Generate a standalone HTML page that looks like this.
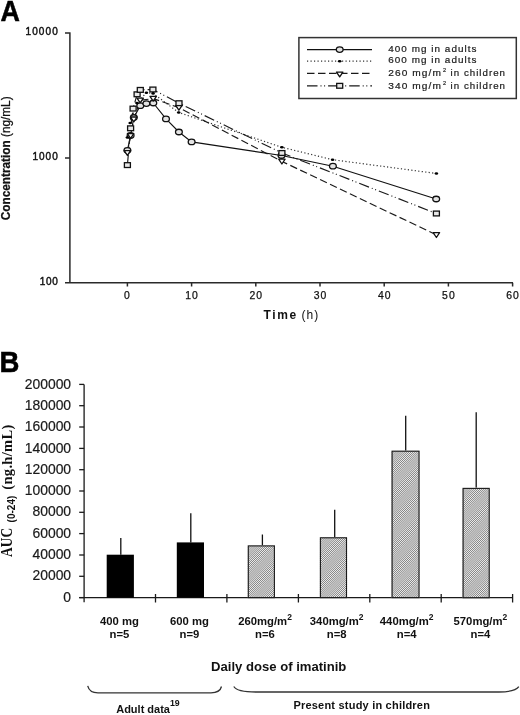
<!DOCTYPE html>
<html><head><meta charset="utf-8"><title>Figure</title>
<style>
html,body{margin:0;padding:0;background:#fff;}
svg{display:block;will-change:transform;}
text{font-family:"Liberation Sans",sans-serif;fill:#111;}
.ax path{stroke:#2a2a2a;stroke-width:1.5;fill:none;}
.axb path{stroke:#1a1a1a;stroke-width:1.3;fill:none;}
.tA text{font-size:10px;fill:#111;stroke:#111;stroke-width:0.42;}
.tA text.tx{font-size:10.4px;letter-spacing:1px;stroke-width:0.25;}
.tL text{font-size:9.5px;fill:#1a1a1a;letter-spacing:1px;stroke:#1a1a1a;stroke-width:0.2;}
.tB text{font-size:13.9px;fill:#1a1a1a;stroke:#1a1a1a;stroke-width:0.2;}
.xb text{font-size:11.3px;font-weight:bold;}
.dd{font-size:13.1px;font-weight:bold;}
.ad{font-size:11px;font-weight:bold;}
.big{font-size:28.6px;font-weight:bold;fill:#000;stroke:#000;stroke-width:0.5;}
.yl{font-size:12.4px;stroke:#111;stroke-width:0.25;}
.xl{font-size:12px;}
.ylb{font-family:"Liberation Serif",serif;font-size:16.5px;font-weight:bold;}
.ylb2{font-family:"Liberation Serif",serif;font-size:14.5px;font-weight:bold;}
.ylsub{font-size:10px;font-weight:bold;}
.l1{stroke:#111;stroke-width:1.15;fill:none;}
.l2{stroke:#333;stroke-width:1.2;fill:none;stroke-dasharray:1.2 2.3;}
.l3{stroke:#1a1a1a;stroke-width:1.15;fill:none;stroke-dasharray:7.5 3.5;}
.l4{stroke:#1a1a1a;stroke-width:1.15;fill:none;stroke-dasharray:10.5 3 1 2.6 1 3;}
.mc{fill:#e4e4e4;stroke:#111;stroke-width:1.3;}
.md{fill:#000;}
.mt{fill:#fff;stroke:#111;stroke-width:1.3;stroke-linejoin:round;}
.ms{fill:#e8e8e8;stroke:#111;stroke-width:1.3;}
.lg{fill:none;stroke:#333;stroke-width:1.5;}
.eb{stroke:#111;stroke-width:1.3;fill:none;}
.br{stroke:#333;stroke-width:1.3;fill:none;}
</style></head>
<body>
<svg width="520" height="715" viewBox="0 0 520 715">
<defs>
</defs>
<rect width="520" height="715" fill="#fff"/>
<g class="ax">
<path d="M69.9 33V283M65 33H70.6M65 158H70.6M65 282.8H513"/>
<path d="M127.4 282.8V286.5"/>
<path d="M191.6 282.8V286.5"/>
<path d="M255.8 282.8V286.5"/>
<path d="M320.0 282.8V286.5"/>
<path d="M384.2 282.8V286.5"/>
<path d="M448.4 282.8V286.5"/>
<path d="M512.6 282.8V286.5"/>
</g>
<g class="tA">
<text x="127.4" y="298.8" text-anchor="middle" class="tx">0</text>
<text x="192.1" y="298.8" text-anchor="middle" class="tx">10</text>
<text x="256.3" y="298.8" text-anchor="middle" class="tx">20</text>
<text x="320.5" y="298.8" text-anchor="middle" class="tx">30</text>
<text x="384.7" y="298.8" text-anchor="middle" class="tx">40</text>
<text x="448.9" y="298.8" text-anchor="middle" class="tx">50</text>
<text x="513.1" y="298.8" text-anchor="middle" class="tx">60</text>
<text x="57.7" y="35.1" text-anchor="end" textLength="32.1" lengthAdjust="spacing">10000</text>
<text x="57.7" y="160.1" text-anchor="end" textLength="25.2" lengthAdjust="spacing">1000</text>
<text x="57.8" y="285.1" text-anchor="end" textLength="18.1" lengthAdjust="spacing">100</text>
</g>
<polyline class="l1" points="127.4,150.3 130.6,135.5 133.8,117.5 140.3,105.7 146.4,103.6 153.3,103.0 166.0,118.9 178.9,132.0 191.6,141.9 281.5,155.5 332.9,166.2 436.2,199.0"/>
<polyline class="l2" points="127.4,137.5 130.2,123.0 136.9,103.1 146.4,92.7 153.1,93.4 178.7,112.5 281.9,147.3 332.6,159.7 436.4,173.5"/>
<polyline class="l3" points="127.4,152.8 130.6,135.8 133.8,119.2 140.2,100.3 153.2,98.6 178.9,107.6 281.9,161.4 436.4,234.9"/>
<polyline class="l4" points="127.4,165.1 130.6,128.3 133.1,108.6 137.1,94.3 140.3,89.9 152.9,89.5 179.0,103.2 281.9,153.0 436.4,213.5"/>
<ellipse cx="127.4" cy="150.3" rx="3.4" ry="2.75" class="mc"/>
<ellipse cx="130.6" cy="135.5" rx="3.4" ry="2.75" class="mc"/>
<ellipse cx="133.8" cy="117.5" rx="3.4" ry="2.75" class="mc"/>
<ellipse cx="140.3" cy="105.7" rx="3.4" ry="2.75" class="mc"/>
<ellipse cx="146.4" cy="103.6" rx="3.4" ry="2.75" class="mc"/>
<ellipse cx="153.3" cy="103.0" rx="3.4" ry="2.75" class="mc"/>
<ellipse cx="166.0" cy="118.9" rx="3.4" ry="2.75" class="mc"/>
<ellipse cx="178.9" cy="132.0" rx="3.4" ry="2.75" class="mc"/>
<ellipse cx="191.6" cy="141.9" rx="3.4" ry="2.75" class="mc"/>
<ellipse cx="281.5" cy="155.5" rx="3.4" ry="2.75" class="mc"/>
<ellipse cx="332.9" cy="166.2" rx="3.4" ry="2.75" class="mc"/>
<ellipse cx="436.2" cy="199.0" rx="3.4" ry="2.75" class="mc"/>
<path d="M124.2 150.6L130.6 150.6L127.4 155.4Z" class="mt"/>
<path d="M127.4 133.6L133.8 133.6L130.6 138.4Z" class="mt"/>
<path d="M130.6 117.0L137.0 117.0L133.8 121.8Z" class="mt"/>
<path d="M137.0 98.1L143.4 98.1L140.2 102.9Z" class="mt"/>
<path d="M150.0 96.4L156.4 96.4L153.2 101.2Z" class="mt"/>
<path d="M175.7 105.4L182.1 105.4L178.9 110.2Z" class="mt"/>
<path d="M278.7 159.2L285.1 159.2L281.9 164.0Z" class="mt"/>
<path d="M433.2 232.7L439.6 232.7L436.4 237.5Z" class="mt"/>
<rect x="124.4" y="162.7" width="6" height="4.8" class="ms"/>
<rect x="127.6" y="125.9" width="6" height="4.8" class="ms"/>
<rect x="130.1" y="106.2" width="6" height="4.8" class="ms"/>
<rect x="134.1" y="91.9" width="6" height="4.8" class="ms"/>
<rect x="137.3" y="87.5" width="6" height="4.8" class="ms"/>
<rect x="149.9" y="87.1" width="6" height="4.8" class="ms"/>
<rect x="176.0" y="100.8" width="6" height="4.8" class="ms"/>
<rect x="278.9" y="150.6" width="6" height="4.8" class="ms"/>
<rect x="433.4" y="211.1" width="6" height="4.8" class="ms"/>
<ellipse cx="127.4" cy="137.5" rx="1.8" ry="1.3" class="md"/>
<ellipse cx="130.2" cy="123.0" rx="1.8" ry="1.3" class="md"/>
<ellipse cx="136.9" cy="103.1" rx="1.8" ry="1.3" class="md"/>
<ellipse cx="146.4" cy="92.7" rx="1.8" ry="1.3" class="md"/>
<ellipse cx="153.1" cy="93.4" rx="1.8" ry="1.3" class="md"/>
<ellipse cx="178.7" cy="112.5" rx="1.8" ry="1.3" class="md"/>
<ellipse cx="281.9" cy="147.3" rx="1.8" ry="1.3" class="md"/>
<ellipse cx="332.6" cy="159.7" rx="1.8" ry="1.3" class="md"/>
<ellipse cx="436.4" cy="173.5" rx="1.8" ry="1.3" class="md"/>
<rect x="298.9" y="37.6" width="217.4" height="60.9" class="lg"/>
<path class="l1" d="M307 49.6H372"/>
<path class="l2" d="M307 61.2H372"/>
<path class="l3" d="M307 73.3H372"/>
<path class="l4" d="M307 85.8H372"/>
<ellipse cx="339.7" cy="49.6" rx="3.4" ry="2.75" class="mc"/>
<ellipse cx="339.7" cy="61.2" rx="1.8" ry="1.3" class="md"/>
<path d="M336.5 72.1L342.9 72.1L339.7 76.9Z" class="mt"/>
<rect x="336.7" y="83.4" width="6" height="4.8" class="ms"/>
<g class="tL">
<text x="388.3" y="51.7" textLength="89.2" lengthAdjust="spacingAndGlyphs">400 mg in adults</text>
<text x="388.3" y="63.3" textLength="89.2" lengthAdjust="spacingAndGlyphs">600 mg in adults</text>
<text x="388.3" y="75.9" textLength="53.6" lengthAdjust="spacingAndGlyphs">260 mg/m</text>
<text x="442.9" y="71.7" style="font-size:5.6px;letter-spacing:0">2</text>
<text x="450.6" y="75.9" textLength="55.4" lengthAdjust="spacingAndGlyphs">in children</text>
<text x="388.3" y="88.8" textLength="53.6" lengthAdjust="spacingAndGlyphs">340 mg/m</text>
<text x="442.9" y="84.6" style="font-size:5.6px;letter-spacing:0">2</text>
<text x="450.6" y="88.8" textLength="55.4" lengthAdjust="spacingAndGlyphs">in children</text>
</g>
<text x="0.6" y="21" class="big" textLength="19.4" lengthAdjust="spacingAndGlyphs">A</text>
<text transform="translate(9.9,220.2) rotate(-90)" class="yl" textLength="123.8" lengthAdjust="spacingAndGlyphs"><tspan font-weight="bold">Concentration</tspan> (ng/mL)</text>
<text x="263.5" y="319.2" class="xl"><tspan font-weight="bold" textLength="32.7" lengthAdjust="spacing">Time</tspan></text>
<text x="301.5" y="319.2" class="xl" textLength="16.8" lengthAdjust="spacing">(h)</text>
<text x="-0.4" y="372" class="big" textLength="19.9" lengthAdjust="spacingAndGlyphs">B</text>
<g class="axb">
<path d="M84.1 384.4V602.3M79.2 597.6H512.6"/>
<path d="M79.2 597.6H84.1"/>
<path d="M79.2 576.3H84.1"/>
<path d="M79.2 555.0H84.1"/>
<path d="M79.2 533.6H84.1"/>
<path d="M79.2 512.3H84.1"/>
<path d="M79.2 491.0H84.1"/>
<path d="M79.2 469.7H84.1"/>
<path d="M79.2 448.4H84.1"/>
<path d="M79.2 427.0H84.1"/>
<path d="M79.2 405.7H84.1"/>
<path d="M79.2 384.4H84.1"/>
<path d="M155.5 594V602.5"/>
<path d="M226.9 594V602.5"/>
<path d="M298.4 594V602.5"/>
<path d="M369.8 594V602.5"/>
<path d="M441.2 594V602.5"/>
<path d="M512.6 594V602.5"/>
</g>
<g class="tB">
<text x="71.1" y="601.7" text-anchor="end">0</text>
<text x="71.1" y="580.4" text-anchor="end">20000</text>
<text x="71.1" y="559.1" text-anchor="end">40000</text>
<text x="71.1" y="537.7" text-anchor="end">60000</text>
<text x="71.1" y="516.4" text-anchor="end">80000</text>
<text x="71.1" y="495.1" text-anchor="end">100000</text>
<text x="71.1" y="473.8" text-anchor="end">120000</text>
<text x="71.1" y="452.5" text-anchor="end">140000</text>
<text x="71.1" y="431.1" text-anchor="end">160000</text>
<text x="71.1" y="409.8" text-anchor="end">180000</text>
<text x="71.1" y="388.5" text-anchor="end">200000</text>
</g>
<path d="M120.8 554.7V538.0" class="eb"/>
<rect x="106.7" y="554.7" width="27.2" height="42.9" fill="#000"/>
<path d="M190.8 542.4V513.2" class="eb"/>
<rect x="176.8" y="542.4" width="27.2" height="55.2" fill="#000"/>
<path d="M262.4 545.4V534.5" class="eb"/>
<clipPath id="c2"><rect x="247.8" y="545.4" width="27.2" height="52.2"/></clipPath>
<rect x="247.8" y="545.4" width="27.2" height="52.2" fill="#ececec"/>
<path clip-path="url(#c2)" d="M195.60 597.6L247.80 545.4M197.68 597.6L249.88 545.4M199.76 597.6L251.96 545.4M201.84 597.6L254.04 545.4M203.92 597.6L256.12 545.4M206.00 597.6L258.20 545.4M208.08 597.6L260.28 545.4M210.16 597.6L262.36 545.4M212.24 597.6L264.44 545.4M214.32 597.6L266.52 545.4M216.40 597.6L268.60 545.4M218.48 597.6L270.68 545.4M220.56 597.6L272.76 545.4M222.64 597.6L274.84 545.4M224.72 597.6L276.92 545.4M226.80 597.6L279.00 545.4M228.88 597.6L281.08 545.4M230.96 597.6L283.16 545.4M233.04 597.6L285.24 545.4M235.12 597.6L287.32 545.4M237.20 597.6L289.40 545.4M239.28 597.6L291.48 545.4M241.36 597.6L293.56 545.4M243.44 597.6L295.64 545.4M245.52 597.6L297.72 545.4M247.60 597.6L299.80 545.4M249.68 597.6L301.88 545.4M251.76 597.6L303.96 545.4M253.84 597.6L306.04 545.4M255.92 597.6L308.12 545.4M258.00 597.6L310.20 545.4M260.08 597.6L312.28 545.4M262.16 597.6L314.36 545.4M264.24 597.6L316.44 545.4M266.32 597.6L318.52 545.4M268.40 597.6L320.60 545.4M270.48 597.6L322.68 545.4M272.56 597.6L324.76 545.4M274.64 597.6L326.84 545.4" stroke="#3a3a3a" stroke-width="0.60" fill="none"/>
<rect x="248.3" y="545.9" width="26.1" height="51.7" fill="none" stroke="#1a1a1a" stroke-width="1.1"/>
<path d="M334.7 537.2V509.8" class="eb"/>
<clipPath id="c3"><rect x="319.9" y="537.2" width="27.2" height="60.4"/></clipPath>
<rect x="319.9" y="537.2" width="27.2" height="60.4" fill="#ececec"/>
<path clip-path="url(#c3)" d="M259.50 597.6L319.90 537.2M261.58 597.6L321.98 537.2M263.66 597.6L324.06 537.2M265.74 597.6L326.14 537.2M267.82 597.6L328.22 537.2M269.90 597.6L330.30 537.2M271.98 597.6L332.38 537.2M274.06 597.6L334.46 537.2M276.14 597.6L336.54 537.2M278.22 597.6L338.62 537.2M280.30 597.6L340.70 537.2M282.38 597.6L342.78 537.2M284.46 597.6L344.86 537.2M286.54 597.6L346.94 537.2M288.62 597.6L349.02 537.2M290.70 597.6L351.10 537.2M292.78 597.6L353.18 537.2M294.86 597.6L355.26 537.2M296.94 597.6L357.34 537.2M299.02 597.6L359.42 537.2M301.10 597.6L361.50 537.2M303.18 597.6L363.58 537.2M305.26 597.6L365.66 537.2M307.34 597.6L367.74 537.2M309.42 597.6L369.82 537.2M311.50 597.6L371.90 537.2M313.58 597.6L373.98 537.2M315.66 597.6L376.06 537.2M317.74 597.6L378.14 537.2M319.82 597.6L380.22 537.2M321.90 597.6L382.30 537.2M323.98 597.6L384.38 537.2M326.06 597.6L386.46 537.2M328.14 597.6L388.54 537.2M330.22 597.6L390.62 537.2M332.30 597.6L392.70 537.2M334.38 597.6L394.78 537.2M336.46 597.6L396.86 537.2M338.54 597.6L398.94 537.2M340.62 597.6L401.02 537.2M342.70 597.6L403.10 537.2M344.78 597.6L405.18 537.2M346.86 597.6L407.26 537.2" stroke="#3a3a3a" stroke-width="0.60" fill="none"/>
<rect x="320.4" y="537.8" width="26.1" height="59.8" fill="none" stroke="#1a1a1a" stroke-width="1.1"/>
<path d="M405.7 450.7V415.8" class="eb"/>
<clipPath id="c4"><rect x="391.5" y="450.7" width="28.0" height="146.9"/></clipPath>
<rect x="391.5" y="450.7" width="28.0" height="146.9" fill="#ececec"/>
<path clip-path="url(#c4)" d="M244.60 597.6L391.50 450.7M246.68 597.6L393.58 450.7M248.76 597.6L395.66 450.7M250.84 597.6L397.74 450.7M252.92 597.6L399.82 450.7M255.00 597.6L401.90 450.7M257.08 597.6L403.98 450.7M259.16 597.6L406.06 450.7M261.24 597.6L408.14 450.7M263.32 597.6L410.22 450.7M265.40 597.6L412.30 450.7M267.48 597.6L414.38 450.7M269.56 597.6L416.46 450.7M271.64 597.6L418.54 450.7M273.72 597.6L420.62 450.7M275.80 597.6L422.70 450.7M277.88 597.6L424.78 450.7M279.96 597.6L426.86 450.7M282.04 597.6L428.94 450.7M284.12 597.6L431.02 450.7M286.20 597.6L433.10 450.7M288.28 597.6L435.18 450.7M290.36 597.6L437.26 450.7M292.44 597.6L439.34 450.7M294.52 597.6L441.42 450.7M296.60 597.6L443.50 450.7M298.68 597.6L445.58 450.7M300.76 597.6L447.66 450.7M302.84 597.6L449.74 450.7M304.92 597.6L451.82 450.7M307.00 597.6L453.90 450.7M309.08 597.6L455.98 450.7M311.16 597.6L458.06 450.7M313.24 597.6L460.14 450.7M315.32 597.6L462.22 450.7M317.40 597.6L464.30 450.7M319.48 597.6L466.38 450.7M321.56 597.6L468.46 450.7M323.64 597.6L470.54 450.7M325.72 597.6L472.62 450.7M327.80 597.6L474.70 450.7M329.88 597.6L476.78 450.7M331.96 597.6L478.86 450.7M334.04 597.6L480.94 450.7M336.12 597.6L483.02 450.7M338.20 597.6L485.10 450.7M340.28 597.6L487.18 450.7M342.36 597.6L489.26 450.7M344.44 597.6L491.34 450.7M346.52 597.6L493.42 450.7M348.60 597.6L495.50 450.7M350.68 597.6L497.58 450.7M352.76 597.6L499.66 450.7M354.84 597.6L501.74 450.7M356.92 597.6L503.82 450.7M359.00 597.6L505.90 450.7M361.08 597.6L507.98 450.7M363.16 597.6L510.06 450.7M365.24 597.6L512.14 450.7M367.32 597.6L514.22 450.7M369.40 597.6L516.30 450.7M371.48 597.6L518.38 450.7M373.56 597.6L520.46 450.7M375.64 597.6L522.54 450.7M377.72 597.6L524.62 450.7M379.80 597.6L526.70 450.7M381.88 597.6L528.78 450.7M383.96 597.6L530.86 450.7M386.04 597.6L532.94 450.7M388.12 597.6L535.02 450.7M390.20 597.6L537.10 450.7M392.28 597.6L539.18 450.7M394.36 597.6L541.26 450.7M396.44 597.6L543.34 450.7M398.52 597.6L545.42 450.7M400.60 597.6L547.50 450.7M402.68 597.6L549.58 450.7M404.76 597.6L551.66 450.7M406.84 597.6L553.74 450.7M408.92 597.6L555.82 450.7M411.00 597.6L557.90 450.7M413.08 597.6L559.98 450.7M415.16 597.6L562.06 450.7M417.24 597.6L564.14 450.7M419.32 597.6L566.22 450.7" stroke="#3a3a3a" stroke-width="0.60" fill="none"/>
<rect x="392.1" y="451.2" width="26.9" height="146.4" fill="none" stroke="#1a1a1a" stroke-width="1.1"/>
<path d="M476.2 487.8V412.2" class="eb"/>
<clipPath id="c5"><rect x="462.5" y="487.8" width="27.2" height="109.8"/></clipPath>
<rect x="462.5" y="487.8" width="27.2" height="109.8" fill="#ececec"/>
<path clip-path="url(#c5)" d="M352.70 597.6L462.50 487.8M354.78 597.6L464.58 487.8M356.86 597.6L466.66 487.8M358.94 597.6L468.74 487.8M361.02 597.6L470.82 487.8M363.10 597.6L472.90 487.8M365.18 597.6L474.98 487.8M367.26 597.6L477.06 487.8M369.34 597.6L479.14 487.8M371.42 597.6L481.22 487.8M373.50 597.6L483.30 487.8M375.58 597.6L485.38 487.8M377.66 597.6L487.46 487.8M379.74 597.6L489.54 487.8M381.82 597.6L491.62 487.8M383.90 597.6L493.70 487.8M385.98 597.6L495.78 487.8M388.06 597.6L497.86 487.8M390.14 597.6L499.94 487.8M392.22 597.6L502.02 487.8M394.30 597.6L504.10 487.8M396.38 597.6L506.18 487.8M398.46 597.6L508.26 487.8M400.54 597.6L510.34 487.8M402.62 597.6L512.42 487.8M404.70 597.6L514.50 487.8M406.78 597.6L516.58 487.8M408.86 597.6L518.66 487.8M410.94 597.6L520.74 487.8M413.02 597.6L522.82 487.8M415.10 597.6L524.90 487.8M417.18 597.6L526.98 487.8M419.26 597.6L529.06 487.8M421.34 597.6L531.14 487.8M423.42 597.6L533.22 487.8M425.50 597.6L535.30 487.8M427.58 597.6L537.38 487.8M429.66 597.6L539.46 487.8M431.74 597.6L541.54 487.8M433.82 597.6L543.62 487.8M435.90 597.6L545.70 487.8M437.98 597.6L547.78 487.8M440.06 597.6L549.86 487.8M442.14 597.6L551.94 487.8M444.22 597.6L554.02 487.8M446.30 597.6L556.10 487.8M448.38 597.6L558.18 487.8M450.46 597.6L560.26 487.8M452.54 597.6L562.34 487.8M454.62 597.6L564.42 487.8M456.70 597.6L566.50 487.8M458.78 597.6L568.58 487.8M460.86 597.6L570.66 487.8M462.94 597.6L572.74 487.8M465.02 597.6L574.82 487.8M467.10 597.6L576.90 487.8M469.18 597.6L578.98 487.8M471.26 597.6L581.06 487.8M473.34 597.6L583.14 487.8M475.42 597.6L585.22 487.8M477.50 597.6L587.30 487.8M479.58 597.6L589.38 487.8M481.66 597.6L591.46 487.8M483.74 597.6L593.54 487.8M485.82 597.6L595.62 487.8M487.90 597.6L597.70 487.8" stroke="#3a3a3a" stroke-width="0.60" fill="none"/>
<rect x="463.1" y="488.4" width="26.1" height="109.3" fill="none" stroke="#1a1a1a" stroke-width="1.1"/>
<g class="xb">
<text x="119.5" y="624.5" text-anchor="middle">400 mg</text>
<text x="119.5" y="637.5" text-anchor="middle">n=5</text>
<text x="189.4" y="624.5" text-anchor="middle">600 mg</text>
<text x="189.4" y="637.5" text-anchor="middle">n=9</text>
<text x="265.0" y="624.5" text-anchor="middle">260mg/m<tspan dy="-4.3" font-size="8.5">2</tspan></text>
<text x="265.0" y="637.5" text-anchor="middle">n=6</text>
<text x="336.7" y="624.5" text-anchor="middle">340mg/m<tspan dy="-4.3" font-size="8.5">2</tspan></text>
<text x="336.7" y="637.5" text-anchor="middle">n=8</text>
<text x="406.7" y="624.5" text-anchor="middle">440mg/m<tspan dy="-4.3" font-size="8.5">2</tspan></text>
<text x="406.7" y="637.5" text-anchor="middle">n=4</text>
<text x="480.4" y="624.5" text-anchor="middle">570mg/m<tspan dy="-4.3" font-size="8.5">2</tspan></text>
<text x="480.4" y="637.5" text-anchor="middle">n=4</text>
</g>
<text x="211" y="670.8" class="dd">Daily dose of imatinib</text>
<path class="br" d="M87.7 685.8C89 691 92 692.8 98 692.8H211C217 692.8 220.5 690.5 221.5 686.5"/>
<path class="br" d="M233.8 686.5C236 690.5 244 692 256 692H499C510 692 516.5 690 518.8 686.6"/>
<text x="116.2" y="713.2" class="ad">Adult data<tspan dy="-6.8" font-size="8.8">19</tspan></text>
<text x="293.4" y="709.4" class="ad" textLength="136.5" lengthAdjust="spacing">Present study in children</text>
<text transform="translate(12.2,556.9) rotate(-90)" class="ylb"><tspan textLength="29" lengthAdjust="spacingAndGlyphs">AUC</tspan></text>
<text transform="translate(15,522.4) rotate(-90)" class="ylsub">(0-24)</text>
<text transform="translate(12.3,489.7) rotate(-90)" class="ylb2" textLength="65" lengthAdjust="spacing">(ng.h/mL)</text>
</svg>
</body></html>
